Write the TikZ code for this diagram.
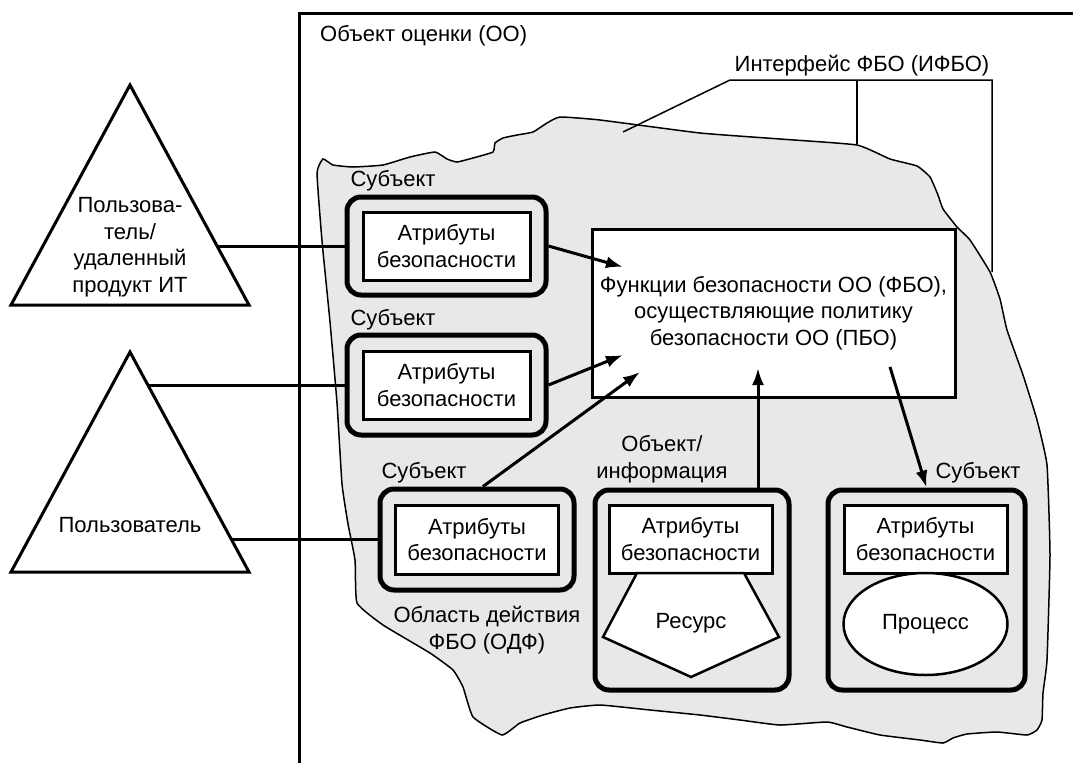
\documentclass[tikz,border=0pt]{standalone}
\usepackage{fontspec}
\setmainfont{Liberation Sans}
\usetikzlibrary{arrows.meta,shapes.geometric}
\definecolor{blobgray}{gray}{0.91}
\begin{document}
\begin{tikzpicture}[x=1pt,y=-1pt,
  every node/.style={font=\fontsize{22}{26.5}\selectfont, inner sep=0pt, align=center},
  outerbox/.style={draw, line width=5pt, rounded corners=14pt, fill=blobgray},
  attrbox/.style={draw, line width=3pt, fill=white},
  conn/.style={line width=3pt},
  arr/.style={line width=3pt, -{Latex[length=17pt,width=12pt]}},
  leader/.style={line width=1.5pt},
  shapeline/.style={draw, line width=2.5pt, fill=white}]
\useasboundingbox (0,0) rectangle (1073,763);
\fill[white] (0,0) rectangle (1073,763);
% TOE frame
\draw[line width=3pt] (299,763) -- (299,13) -- (1073,13);
\node[anchor=west] (toe) at (320,36) {Объект оценки (ОО)};
% scope of control (blob)
\draw[line width=1.5pt, fill=blobgray] plot[smooth cycle, tension=0.25] coordinates {
(323,159) (333,165) (353,167) (383,165) (410,157) (435,152) (447,159) (457,162)
(473,158) (493,152) (495,143) (503,138) (517,135) (533,132) (547,123) (560,117)
(600,120) (700,133) (780,139) (857,145) (890,159) (917,166) (930,177) (938,195)
(943,209) (957,227) (970,240) (990,272) (1000,299) (1007,330) (1023,375) (1037,420)
(1047,465) (1050,555) (1047,660) (1043,693) (1042,720) (1037,730) (1027,735) (997,732)
(967,734) (953,738) (943,743) (920,740) (880,735) (847,727) (827,722) (780,725)
(740,720) (700,715) (650,710) (600,705) (570,708) (543,715) (520,723) (502,735)
(473,717) (463,687) (453,670) (430,653) (383,625) (357,603) (355,560) (348,524)
(342,484) (337,403) (330,322) (322,241) (317,173)};
% TSF interface label and leaders
\node (ifbo) at (862,66) {Интерфейс ФБО (ИФБО)};
\coordinate (L0) at (730,80);
\coordinate (L1) at (857,80);
\coordinate (L2) at (992,80);
\coordinate (E0) at (623,132);
\coordinate (E1) at (857,144);
\coordinate (E2) at (992,272);
\draw[leader] (E0) -- (L0) -- (L2) -- (E2);
\draw[leader] (L1) -- (E1);
% triangles
\draw[line width=3pt, fill=white] (130,85) -- (249,305) -- (11,305) -- cycle;
\node (t1) at (130,247) {Пользова-\\тель/\\удаленный\\продукт ИТ};
\draw[line width=3pt, fill=white] (130,352) -- (249,572) -- (11,572) -- cycle;
\node (t2) at (130,525) {Пользователь};
\coordinate (t1e) at (216.5,246);
\coordinate (t2a) at (147,385);
\coordinate (t2b) at (232,539.5);
% subjects
\node[outerbox, minimum width=199pt, minimum height=98pt] (s1) at (446.5,246) {};
\node[attrbox, minimum width=167pt, minimum height=68pt] (a1) at (446.5,246) {Атрибуты\\безопасности};
\node (l1) at (393,181) {Субъект};
\node[outerbox, minimum width=199pt, minimum height=100pt] (s2) at (446.5,385) {};
\node[attrbox, minimum width=167pt, minimum height=68pt] (a2) at (446.5,385) {Атрибуты\\безопасности};
\node (l2) at (393,320) {Субъект};
\node[outerbox, minimum width=194pt, minimum height=101pt] (s3) at (477,539.5) {};
\node[attrbox, minimum width=163pt, minimum height=69pt] (a3) at (477,539.5) {Атрибуты\\безопасности};
\node (l3) at (424,473) {Субъект};
% object / resource
\node[outerbox, minimum width=194pt, minimum height=200pt] (s4) at (692,590) {};
\node[attrbox, minimum width=163pt, minimum height=68pt] (a4) at (690.5,539) {Атрибуты\\безопасности};
\draw[line width=2.5pt, fill=white] (637,573) -- (744,573) -- (779,637) -- (691,677) -- (603,637) -- cycle;
\node (res) at (691,623) {Ресурс};
\node (l4) at (662,459) {Объект/\\информация};
% process subject
\node[outerbox, minimum width=197pt, minimum height=200pt] (s5) at (926.5,590) {};
\node[attrbox, minimum width=163pt, minimum height=68pt] (a5) at (925.5,539) {Атрибуты\\безопасности};
\node[shapeline, ellipse, minimum width=164pt, minimum height=102pt] (proc) at (925.5,624) {Процесс};
\node (l5) at (978,473) {Субъект};
% TSC label
\node (odf) at (487,630) {Область действия\\ФБО (ОДФ)};
% TSF box
\node[draw, line width=3pt, fill=white, minimum width=363pt, minimum height=168pt] (fbo) at (773.5,313)
  {Функции безопасности ОО (ФБО),\\осуществляющие политику\\безопасности ОО (ПБО)};
\coordinate (f1) at (623,267);
\coordinate (f2) at (623,355);
\coordinate (f3) at (640,372);
\coordinate (f4) at (758,368);
\coordinate (f5) at (890,367);
% connectors
\draw[conn] (t1e) -- (s1.west);
\draw[conn] (t2a) -- (s2.west);
\draw[conn] (t2b) -- (s3.west);
\draw[arr] (s1.east) -- (f1);
\draw[arr] (s2.east) -- (f2);
\draw[arr] ([xshift=6pt]s3.north) -- (f3);
\draw[arr] (s4.north -| f4) -- (f4);
\draw[arr] (f5) -- (s5.north);
\end{tikzpicture}
\end{document}
